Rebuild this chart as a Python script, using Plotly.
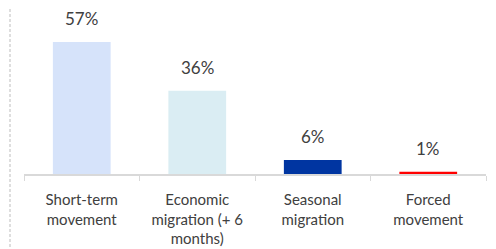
import plotly.graph_objects as go

categories = ["Short-term<br>movement", "Economic<br>migration (+ 6<br>months)", "Seasonal<br>migration", "Forced<br>movement"]
values = [57, 36, 6, 1]
labels = ["57%", "36%", "6%", "1%"]
colors = ["#D6E3FA", "#DAEDF3", "#0035A1", "#FF0000"]

# the page body adds an 8px offset; layout compensates for it
fig = go.Figure()
fig.add_trace(go.Bar(x=categories, y=values, marker=dict(color=colors, line=dict(width=0)),
                     width=0.5, hoverinfo="skip"))

for c, v, t in zip(categories, values, labels):
    fig.add_annotation(x=c, y=v, text=t, showarrow=False, yanchor="bottom", yshift=11,
                       font=dict(family="Lato", size=17, color="#404040"))

fig.add_shape(type="line", xref="paper", yref="paper", x0=-14/462, x1=-14/462, y0=-83/166, y1=1,
              line=dict(color="#BDBDBD", width=1, dash="3px,2px"))

fig.update_layout(
    width=496, height=249,
    margin=dict(l=16, r=18, t=0, b=83),
    paper_bgcolor="white", plot_bgcolor="white",
    showlegend=False,
    font=dict(family="Lato", size=15, color="#404040"),
    xaxis=dict(type="category", range=[-0.5, 3.5], showline=True, linecolor="#D9D9D9", linewidth=2,
               ticks="outside", tickson="boundaries", ticklen=5, tickcolor="#D9D9D9", tickwidth=1,
               ticklabelstandoff=11, automargin=False,
               showgrid=False, tickfont=dict(family="Lato", size=15, color="#404040")),
    yaxis=dict(range=[0, 71.7], visible=False, showgrid=False, zeroline=False),
)

fig.write_html("out.html")
